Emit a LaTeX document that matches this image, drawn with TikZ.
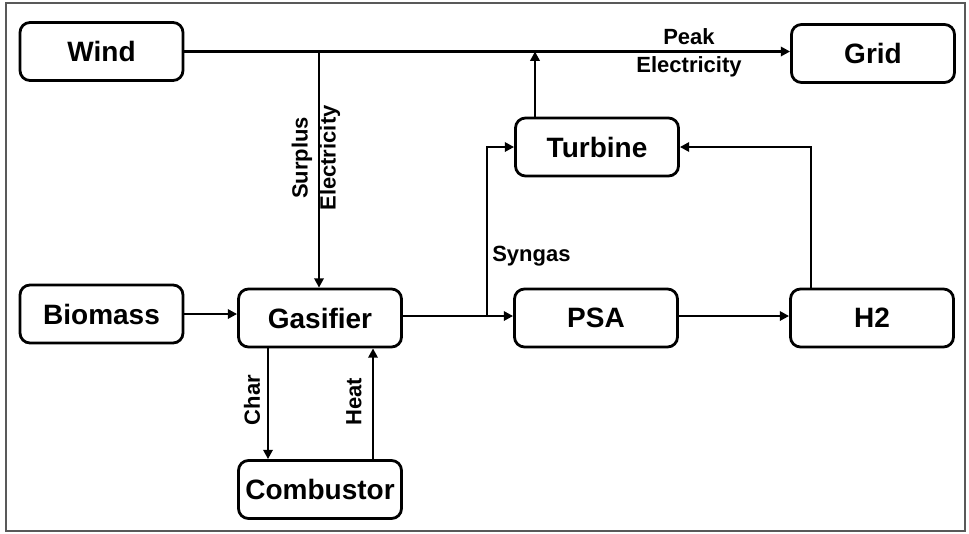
\documentclass[tikz,border=0pt]{standalone}
\usepackage{fontspec}
\setmainfont{Liberation Sans}
\usetikzlibrary{arrows.meta}

\def\boxWidth{163}
\def\boxHeight{58}
\def\busY{51.5}

\tikzset{
    unit/.style = {draw, rounded corners = 7.5pt, line width = 2.1pt,
        minimum width = \boxWidth*0.75pt, minimum height = \boxHeight*0.75pt,
        inner sep = 0pt, font = \fontsize{21}{25}\selectfont\bfseries},
    line/.style = {line width = 1.9pt},
    flow/.style = {line, -{Triangle[length = 7pt, width = 7pt]}},
    tag/.style = {inner sep = 0pt, align = center,
        font = \fontsize{16.5}{21}\selectfont\bfseries},
}

\begin{document}
\begin{tikzpicture}[x = 0.75pt, y = -0.75pt]
            \useasboundingbox (0,0) rectangle (969,533);
            \draw [black!65, line width = 0.9pt] (6,3) rectangle (965,531);

            %% blocks
            \node [unit] (wind)      at (101.5, \busY) {Wind};
            \node [unit] (grid)      at (873, 53.5)  {Grid};
            \node [unit] (turbine)   at (597, 147)   {Turbine};
            \node [unit] (biomass)   at (101.5, 314) {Biomass};
            \node [unit] (gasifier)  at (320, 318)   {Gasifier};
            \node [unit] (psa)       at (596, 318)   {PSA};
            \node [unit] (h2)        at (872, 318)   {H2};
            \node [unit] (combustor) at (320, 489.5) {Combustor};

            \coordinate (tap)   at (319, \busY);
            \coordinate (merge) at (535, \busY);
            \coordinate (split) at (487, 316);

            %% electricity bus
            \draw [flow] (wind.east) -- (wind.east -| grid.west);
            \draw [flow] (tap) -- (tap |- gasifier.north);
            \draw [flow] (merge |- turbine.north) -- (merge);
            \node [tag, rotate = 90] (surplus) at (316, 158) {Surplus\\Electricity};
            \node [tag] (peak) at (689, 53) {Peak\\Electricity};

            %% gas path
            \draw [flow] (biomass.east) -- (biomass.east -| gasifier.west);
            \draw [line] (gasifier.east |- split) -- (split);
            \draw [flow] (split) -- (split -| psa.west);
            \draw [flow] (split) |- (turbine.west);
            \node [tag, anchor = west] (syngas) at (492, 256) {Syngas};
            \draw [flow] (psa.east |- split) -- (split -| h2.west);
            \draw [flow] (h2.north -| 811, 0) |- (turbine.east);

            %% char loop
            \draw [flow] (gasifier.south -| 268, 0) -- (combustor.north -| 268, 0);
            \draw [flow] (combustor.north -| 373, 0) -- (gasifier.south -| 373, 0);
            \node [tag, rotate = 90] (char) at (252, 400) {Char};
            \node [tag, rotate = 90] (heat) at (354, 402) {Heat};
        \end{tikzpicture}
\end{document}
